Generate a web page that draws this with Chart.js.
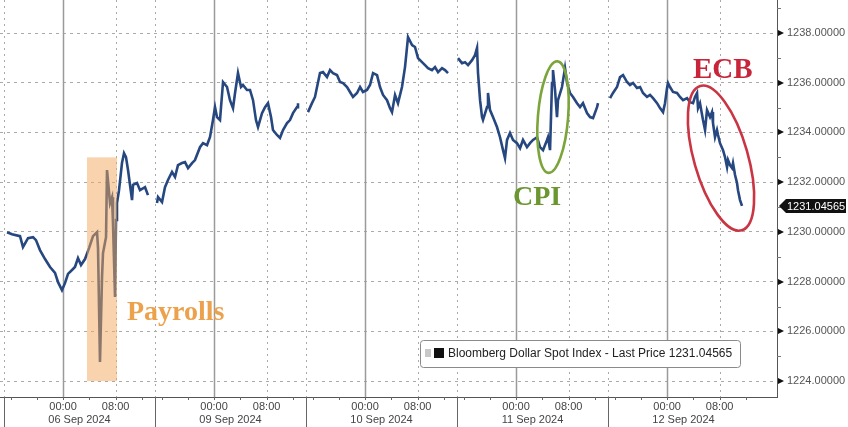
<!DOCTYPE html>
<html><head><meta charset="utf-8">
<script src="https://cdn.jsdelivr.net/npm/chart.js@4.4.1/dist/chart.umd.min.js"></script>
<style>html,body{margin:0;padding:0;background:#fff;overflow:hidden}#wrap{width:848px;height:427px;position:relative}</style>
</head><body><div id="wrap"><canvas id="c" width="848" height="427"></canvas></div>
<script>
// Each trading session is 23h long, opening 15:00 the previous day; hours are counted from the open.
const SESSION_HOURS = 23;
const sessionDates = ['06 Sep 2024', '09 Sep 2024', '10 Sep 2024', '11 Sep 2024', '12 Sep 2024'];
const timeTickOffsets = [9, 17];
const timeTickLabels = ['00:00', '08:00'];
const priceTicks = [1224, 1226, 1228, 1230, 1232, 1234, 1236, 1238];
const seriesName = 'Bloomberg Dollar Spot Index - Last Price';
const lastPrice = 1231.04565;

// [hours since session open, price]
const sep06 = [[0.46,1229.99],[1.22,1229.91],[2.44,1229.83],[2.89,1229.39],[3.66,1229.75],[4.42,1229.79],[4.87,1229.67],[5.48,1229.27],[6.25,1228.91],[7.01,1228.59],[7.77,1228.35],[8.23,1227.98],[8.83,1227.66],[9.29,1227.94],[9.75,1228.31],[10.36,1228.47],[10.81,1228.59],[11.27,1228.95],[11.73,1228.67],[12.34,1228.91],[12.95,1229.35],[13.56,1229.83],[14.17,1229.99],[14.32,1229.35],[14.62,1224.77],[14.93,1228.19],[15.08,1229.15],[15.54,1229.79],[15.69,1232.49],[16.15,1231.16],[16.45,1231.40],[16.60,1230.36],[16.91,1227.38],[17.06,1230.48],[17.21,1231.16],[17.52,1231.68],[17.97,1232.77],[18.28,1233.17],[18.58,1233.01],[18.89,1232.49],[19.50,1231.28],[19.65,1231.89],[20.26,1231.97],[20.72,1231.68],[21.48,1231.80],[21.93,1231.48]];
const sep09 = [[0.30,1231.16],[0.46,1231.40],[1.07,1231.20],[1.52,1231.80],[1.98,1232.09],[2.59,1232.41],[3.05,1232.21],[3.50,1232.69],[4.11,1232.77],[4.57,1232.81],[5.03,1232.57],[5.64,1232.77],[6.09,1232.89],[6.85,1233.41],[7.31,1233.57],[7.92,1233.49],[8.38,1233.82],[8.83,1234.50],[9.14,1235.02],[9.44,1234.62],[9.90,1234.50],[10.36,1236.03],[10.97,1235.83],[11.42,1235.30],[11.88,1234.98],[12.19,1235.59],[12.64,1236.39],[13.10,1235.83],[13.40,1235.91],[14.01,1235.71],[14.47,1235.71],[14.93,1235.30],[15.38,1234.50],[15.69,1234.22],[16.30,1234.78],[16.76,1235.02],[17.21,1235.18],[17.67,1234.62],[17.97,1234.10],[18.58,1233.90],[19.04,1233.78],[19.50,1234.10],[20.11,1234.38],[20.56,1234.50],[21.02,1234.78],[21.63,1235.02],[21.78,1235.18]];
const sep10 = [[0.30,1234.82],[0.91,1235.18],[1.37,1235.43],[1.68,1235.83],[2.13,1236.39],[2.59,1236.43],[3.20,1236.23],[3.66,1236.51],[4.11,1236.39],[4.72,1236.31],[5.18,1236.03],[5.64,1235.99],[6.25,1235.83],[6.70,1235.63],[7.16,1235.43],[7.77,1235.59],[8.23,1235.83],[8.68,1235.63],[9.29,1235.71],[9.75,1235.91],[10.21,1236.39],[10.82,1236.31],[11.27,1235.83],[11.73,1235.51],[12.34,1235.30],[12.80,1234.98],[13.10,1234.82],[13.56,1235.51],[14.01,1235.18],[14.62,1235.83],[15.08,1236.63],[15.54,1237.84],[16.15,1237.52],[16.60,1237.44],[17.06,1236.99],[17.67,1236.83],[18.13,1236.71],[18.58,1236.59],[19.19,1236.51],[19.65,1236.63],[20.11,1236.43],[20.72,1236.59],[21.17,1236.51],[21.63,1236.39]];
const sep11 = [[0.15,1236.99],[0.76,1236.79],[1.22,1236.83],[1.68,1236.71],[2.29,1236.91],[2.74,1237.11],[3.05,1237.40],[3.20,1236.39],[3.51,1235.30],[3.81,1234.62],[3.96,1234.50],[4.57,1235.02],[4.72,1235.59],[5.03,1234.90],[5.48,1234.62],[6.09,1234.22],[6.55,1233.81],[7.01,1233.29],[7.31,1232.97],[7.62,1233.70],[8.07,1233.98],[8.53,1233.70],[9.14,1233.57],[9.60,1233.37],[10.05,1233.70],[10.66,1233.41],[11.12,1233.57],[11.58,1233.70],[12.19,1233.81],[12.64,1233.41],[13.10,1233.29],[13.71,1233.70],[13.86,1233.81],[14.17,1233.29],[14.47,1235.99],[14.62,1236.51],[14.93,1235.71],[15.23,1234.62],[15.38,1235.30],[15.99,1235.83],[16.45,1236.59],[16.76,1235.99],[17.21,1235.59],[17.67,1235.43],[18.28,1235.18],[18.74,1235.02],[19.19,1235.18],[19.80,1234.78],[20.26,1234.62],[20.72,1234.58],[21.33,1235.02],[21.48,1235.18]];
const sep12 = [[0.31,1235.38],[0.76,1235.59],[1.37,1235.83],[1.83,1236.23],[2.29,1236.31],[2.90,1236.03],[3.35,1235.91],[3.81,1235.99],[4.42,1235.79],[4.88,1235.83],[5.33,1235.59],[5.94,1235.43],[6.40,1235.51],[6.86,1235.38],[7.47,1235.18],[7.92,1234.98],[8.38,1234.82],[8.68,1235.18],[8.99,1235.79],[9.14,1235.99],[9.44,1235.83],[9.90,1235.63],[10.51,1235.59],[10.97,1235.43],[11.43,1235.30],[12.04,1235.38],[12.49,1235.22],[12.95,1235.18],[13.25,1235.43],[13.56,1235.59],[13.71,1234.98],[14.01,1235.18],[14.47,1234.50],[14.78,1234.10],[15.08,1234.90],[15.54,1234.62],[15.84,1234.82],[15.99,1234.38],[16.30,1233.81],[16.60,1234.10],[16.76,1233.90],[17.06,1233.57],[17.52,1233.29],[17.82,1233.01],[18.13,1232.61],[18.28,1232.89],[18.58,1232.69],[18.89,1232.57],[19.04,1232.77],[19.35,1232.29],[19.65,1231.97],[19.80,1231.68],[20.11,1231.28],[20.41,1231.04565]];
const sessions = [sep06, sep09, sep10, sep11, sep12];

// annotations in data units: x = hours on the session axis, y = price
const payrollBox = {x0: 12.64, x1: 17.21, y0: 1224.0, y1: 1233.0};
const notes = [
  {text: 'Payrolls', x: 18.73, y: 1226.45, color: '#eca24c', size: 28},
  {text: 'CPI', x: 77.53, y: 1231.08, color: '#6b9630', size: 28},
  {text: 'ECB', x: 104.95, y: 1236.19, color: '#c8253b', size: 29}
];
const rings = [
  {x: 83.62, y: 1234.62, rx: 2.3, ry: 2.25, rot: 0.08, color: '#7ba53b'},
  {x: 109.21, y: 1232.97, rx: 4.1, ry: 3.02, rot: -0.28, color: '#c93543'}
];

const points = [];
sessions.forEach((s, i) => {
  if (i > 0) points.push({x: i * SESSION_HOURS, y: null});
  s.forEach(p => points.push({x: i * SESSION_HOURS + p[0], y: p[1]}));
});

const deco = {
  id: 'deco',
  beforeDatasetsDraw(chart) {
    const {ctx, chartArea: a, scales: {x}} = chart;
    ctx.save();
    sessionDates.forEach((d, i) => {
      const base = i * SESSION_HOURS;
      [[base, true], [base + timeTickOffsets[0], false], [base + timeTickOffsets[1], true]].forEach(([h, dotted]) => {
        const px = Math.round(x.getPixelForValue(h)) + 0.5;
        ctx.beginPath();
        ctx.setLineDash(dotted ? [2, 4] : []);
        ctx.strokeStyle = dotted ? '#aaaaaa' : '#9a9a9a';
        ctx.lineWidth = dotted ? 1 : 1.5;
        ctx.moveTo(px, a.top); ctx.lineTo(px, a.bottom); ctx.stroke();
      });
    });
    ctx.restore();
  },
  afterDatasetsDraw(chart) {
    const {ctx, chartArea: a, scales: {x, y}} = chart;
    ctx.save();
    // Payrolls shading
    const bx0 = x.getPixelForValue(payrollBox.x0), bx1 = x.getPixelForValue(payrollBox.x1);
    const by0 = y.getPixelForValue(payrollBox.y1), by1 = y.getPixelForValue(payrollBox.y0);
    ctx.fillStyle = 'rgba(242,168,92,0.5)';
    ctx.fillRect(bx0, by0, bx1 - bx0, by1 - by0);
    // rings
    const pxH = x.getPixelForValue(1) - x.getPixelForValue(0);
    const pxV = y.getPixelForValue(0) - y.getPixelForValue(1);
    rings.forEach(r => {
      ctx.beginPath();
      ctx.strokeStyle = r.color; ctx.lineWidth = 2.6;
      ctx.ellipse(x.getPixelForValue(r.x), y.getPixelForValue(r.y), r.rx * pxH, r.ry * pxV, r.rot, 0, Math.PI * 2);
      ctx.stroke();
    });
    // notes
    notes.forEach(n => {
      ctx.font = 'bold ' + n.size + 'px "Liberation Serif", "DejaVu Serif", serif';
      ctx.fillStyle = n.color; ctx.textAlign = 'left'; ctx.textBaseline = 'alphabetic';
      ctx.fillText(n.text, x.getPixelForValue(n.x), y.getPixelForValue(n.y));
    });
    // legend box
    const lx = a.left + 420, ly = a.top + 340, lw = 320, lh = 27;
    ctx.fillStyle = '#fff'; ctx.strokeStyle = '#8a8a8a'; ctx.lineWidth = 1;
    ctx.beginPath(); ctx.roundRect(lx + 0.5, ly + 0.5, lw, lh, 3); ctx.fill(); ctx.stroke();
    ctx.fillStyle = '#c8c8c8'; ctx.fillRect(lx + 5, ly + 9, 6, 8);
    ctx.fillStyle = '#111'; ctx.fillRect(lx + 14, ly + 8, 10, 10);
    ctx.fillStyle = '#222'; ctx.font = '12px "Liberation Sans", Arial, sans-serif';
    ctx.textBaseline = 'middle';
    ctx.fillText(seriesName + ' ' + lastPrice.toFixed(5), lx + 28, ly + 14);
    ctx.restore();
  },
  afterDraw(chart) {
    const {ctx, chartArea: a, scales: {x, y}} = chart;
    ctx.save();
    // right axis: arrows, labels, minor ticks
    ctx.font = '11px "Liberation Sans", Arial, sans-serif';
    ctx.textBaseline = 'middle'; ctx.textAlign = 'left';
    priceTicks.forEach(v => {
      const py = Math.round(y.getPixelForValue(v));
      ctx.fillStyle = '#111';
      ctx.beginPath(); ctx.moveTo(a.right + 1, py - 3); ctx.lineTo(a.right + 7, py); ctx.lineTo(a.right + 1, py + 3); ctx.fill();
      ctx.fillStyle = '#555';
      ctx.fillText(v.toFixed(5), a.right + 10, py);
      const pm = Math.round(y.getPixelForValue(v + 1)) + 0.5;
      ctx.strokeStyle = '#777'; ctx.lineWidth = 1;
      ctx.beginPath(); ctx.moveTo(a.right, pm); ctx.lineTo(a.right + 4, pm); ctx.stroke();
    });
    // last price tag
    const ty = Math.round(y.getPixelForValue(lastPrice));
    ctx.fillStyle = '#111';
    ctx.beginPath();
    ctx.moveTo(a.right + 2, ty); ctx.lineTo(a.right + 9, ty - 7); ctx.lineTo(846, ty - 7);
    ctx.lineTo(846, ty + 7); ctx.lineTo(a.right + 9, ty + 7); ctx.closePath(); ctx.fill();
    ctx.fillStyle = '#fff';
    ctx.fillText(lastPrice.toFixed(5), a.right + 10, ty + 0.5);
    // bottom axis labels, ticks and session separators
    ctx.font = '11px "Liberation Sans", Arial, sans-serif';
    ctx.textAlign = 'center';
    sessionDates.forEach((d, i) => {
      const base = i * SESSION_HOURS;
      const sx = Math.round(x.getPixelForValue(base)) + 0.5;
      ctx.strokeStyle = '#666'; ctx.lineWidth = 1;
      ctx.beginPath(); ctx.moveTo(sx, a.bottom); ctx.lineTo(sx, 427); ctx.stroke();
      for (let h = 1; h < SESSION_HOURS; h += 4) {
        const tx = Math.round(x.getPixelForValue(base + h)) + 0.5;
        ctx.beginPath(); ctx.moveTo(tx, a.bottom); ctx.lineTo(tx, a.bottom + 3); ctx.stroke();
      }
      ctx.fillStyle = '#444';
      timeTickOffsets.forEach((o, k) => ctx.fillText(timeTickLabels[k], x.getPixelForValue(base + o), a.bottom + 10));
      ctx.fillText(d, x.getPixelForValue(base + SESSION_HOURS / 2), a.bottom + 23);
    });
    ctx.restore();
  }
};

new Chart(document.getElementById('c'), {
  type: 'line',
  data: {datasets: [{label: seriesName, data: points, borderColor: '#26477f', borderWidth: 2.6,
    pointRadius: 0, tension: 0, spanGaps: false}]},
  options: {
    responsive: false, animation: false, devicePixelRatio: 1,
    layout: {padding: 0},
    plugins: {legend: {display: false}, tooltip: {enabled: false}},
    scales: {
      x: {type: 'linear', min: -0.61, max: 117.74,
        grid: {display: false}, ticks: {display: false},
        border: {display: true, color: '#555', width: 1},
        afterFit: s => { s.height = 30; }},
      y: {position: 'right', min: 1223.36, max: 1239.33,
        afterBuildTicks: s => { s.ticks = priceTicks.map(v => ({value: v})); },
        ticks: {display: false},
        grid: {color: '#aaaaaa', lineWidth: 1, drawTicks: false},
        border: {display: true, color: '#555', width: 1, dash: [3, 4]},
        afterFit: s => { s.width = 71; }}
    }
  },
  plugins: [deco]
});
</script></body></html>
